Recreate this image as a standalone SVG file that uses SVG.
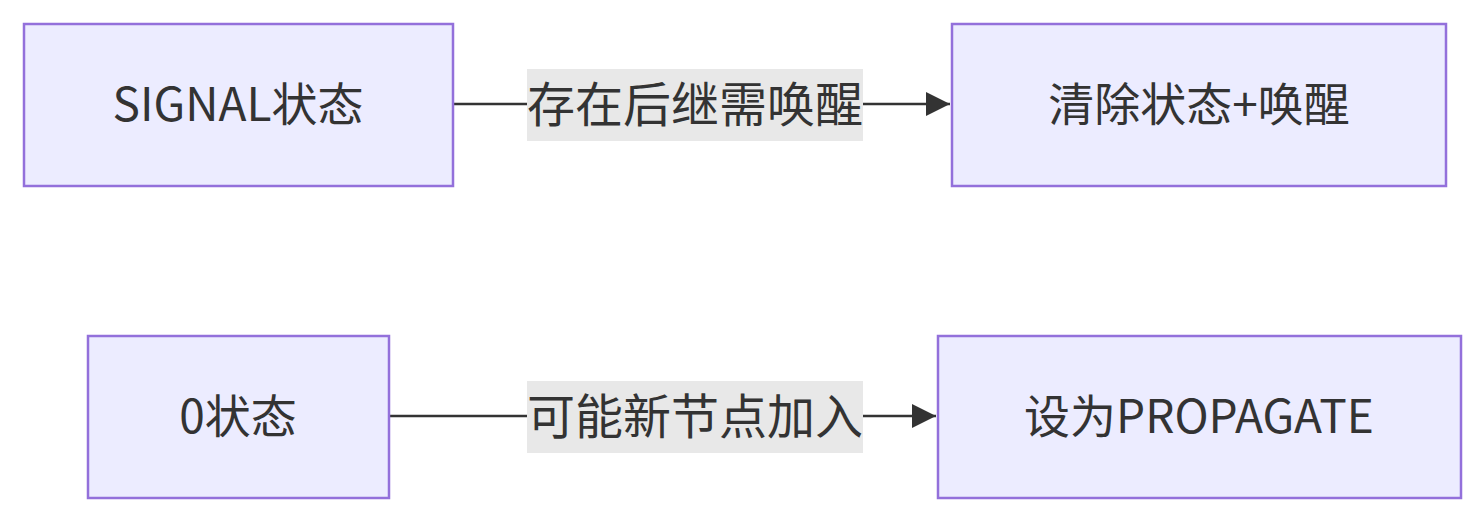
<svg xmlns="http://www.w3.org/2000/svg" width="1484" height="522" viewBox="0 0 1484 522">
<defs>
<style>
.node rect{fill:#ECECFF;stroke:#9370DB;stroke-width:2.5}
.t{font-family:"Noto Sans CJK SC","Liberation Sans",sans-serif;font-size:48px;fill:#333;text-anchor:middle;dominant-baseline:central}
.lt{font-size:46px}
.edge{stroke:#333;stroke-width:2.5;fill:none}
.lbg{fill:#E8E8E8}
</style>
<marker id="arrow" viewBox="0 0 12 12" refX="12" refY="6" markerWidth="24" markerHeight="24" markerUnits="userSpaceOnUse" orient="auto">
<path d="M0,0 L12,6 L0,12 z" fill="#333"/>
</marker>
</defs>
<rect width="1484" height="522" fill="#fff"/>
<g id="edges">
<path class="edge" d="M453,104 L950,104" marker-end="url(#arrow)"/>
<path class="edge" d="M389,416 L936,416" marker-end="url(#arrow)"/>
<rect class="lbg" x="527" y="69" width="336" height="72"/>
<text class="t" x="695" y="101">存在后继需唤醒</text>
<rect class="lbg" x="527" y="381" width="336" height="72"/>
<text class="t" x="695" y="413">可能新节点加入</text>
</g>
<g id="n1" class="node"><rect x="24" y="24" width="429" height="162"/><text class="t lt" x="238" y="101">SIGNAL状态</text></g>
<g id="n2" class="node"><rect x="952" y="24" width="494" height="162"/><text class="t lt" x="1199" y="101">清除状态+唤醒</text></g>
<g id="n3" class="node"><rect x="88" y="336" width="301" height="162"/><text class="t lt" x="238" y="413">0状态</text></g>
<g id="n4" class="node"><rect x="938" y="336" width="523" height="162"/><text class="t lt" x="1199" y="413">设为PROPAGATE</text></g>
</svg>
